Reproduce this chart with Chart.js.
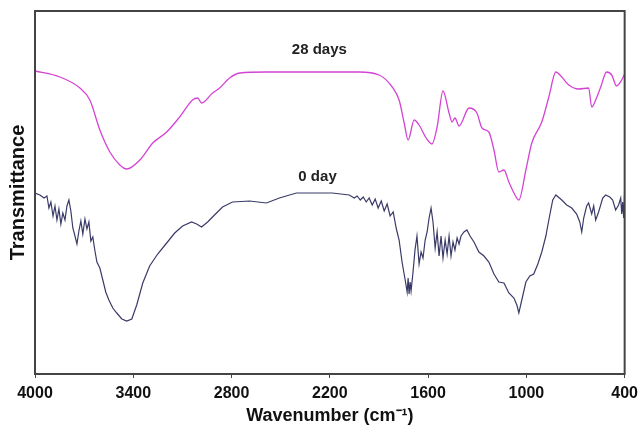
<!DOCTYPE html>
<html>
<head>
<meta charset="utf-8">
<script src="https://cdn.jsdelivr.net/npm/chart.js@4.4.0/dist/chart.umd.min.js"></script>
<style>
  body { margin: 0; background: #fff; }
  canvas { display: block; }
</style>
</head>
<body>
<canvas id="ftir" width="644" height="437"></canvas>
<script>
// wavenumber (cm-1) and transmittance (a.u.)
const wn28 = [4000, 3848, 3726, 3665, 3604, 3543, 3482, 3440, 3360, 3281, 3196, 3117, 3038, 3007, 2983,
  2916, 2873, 2812, 2751, 2587, 2020, 1899, 1819, 1777, 1746, 1722, 1685, 1655, 1612, 1576, 1545, 1509,
  1472, 1454, 1436, 1411, 1350, 1302, 1271, 1229, 1198, 1168, 1137, 1107, 1076, 1046, 1003, 967, 906,
  863, 820, 784, 741, 680, 620, 601, 577, 546, 510, 479, 449, 418, 400];
const t28 = [303, 297, 286, 274, 244, 222, 209, 205, 214, 231, 242, 257, 274, 276, 271,
  281, 286, 296, 301, 302, 302, 299, 287, 274, 251, 234, 254, 249, 236, 230, 247, 283,
  261, 252, 256, 248, 266, 261, 246, 242, 224, 202, 204, 192, 181, 174, 204, 231, 252,
  277, 302, 297, 289, 285, 286, 267, 274, 287, 302, 299, 288, 294, 300];

const wn0 = [4000, 3970, 3945, 3927, 3915, 3903, 3890, 3878, 3866, 3854, 3842, 3830, 3817, 3805, 3793,
  3781, 3769, 3756, 3744, 3732, 3720, 3708, 3695, 3683, 3671, 3659, 3647, 3635, 3622, 3604, 3586, 3568,
  3549, 3525, 3501, 3470, 3440, 3409, 3379, 3342, 3300, 3251, 3196, 3147, 3099, 3044, 3013, 2983, 2946,
  2904, 2855, 2794, 2690, 2587, 2508, 2404, 2185, 2081, 2051, 2033, 2014, 1996, 1978, 1960, 1941, 1923,
  1905, 1886, 1868, 1850, 1832, 1813, 1795, 1777, 1759, 1740, 1728, 1722, 1716, 1710, 1704, 1692, 1680,
  1668, 1655, 1643, 1631, 1618, 1606, 1594, 1582, 1570, 1557, 1545, 1533, 1521, 1509, 1496, 1484, 1472,
  1460, 1448, 1436, 1423, 1411, 1399, 1381, 1363, 1344, 1320, 1290, 1259, 1229, 1198, 1168, 1137, 1107,
  1076, 1058, 1046, 1028, 1003, 979, 955, 930, 906, 881, 863, 839, 820, 784, 754, 723, 693, 674, 662,
  650, 632, 620, 601, 589, 577, 559, 534, 516, 491, 473, 455, 437, 424, 418, 412, 406, 400];
const t0 = [181, 179, 176, 178, 166, 172, 158, 168, 154, 165, 150, 161, 154, 168, 174,
  163, 146, 138, 130, 143, 153, 140, 155, 145, 152, 133, 137, 124, 112, 106, 94, 82,
  74, 66, 61, 55, 53, 55, 69, 91, 108, 120, 131, 141, 148, 152, 150, 147, 152,
  159, 167, 172, 173, 171, 176, 181, 181, 179, 176, 178, 174, 177, 172, 176, 169, 175,
  166, 173, 163, 170, 158, 162, 146, 134, 112, 94, 82, 96, 80, 92, 83, 102, 124,
  138, 110, 122, 116, 134, 142, 156, 166, 152, 126, 142, 118, 138, 116, 134, 120, 138,
  118, 132, 124, 136, 130, 138, 142, 144, 138, 132, 122, 118, 112, 100, 92, 91, 81,
  76, 69, 61, 74, 92, 98, 100, 110, 122, 138, 154, 174, 179, 174, 169, 166, 160, 152, 142,
  156, 168, 171, 160, 168, 154, 162, 176, 179, 177, 174, 164, 169, 176, 160, 172, 156, 184];

const xTicks = [4000, 3400, 2800, 2200, 1600, 1000, 400];

const seriesNames = ['28 days', '0 day'];
const namePos = [[2264, 324], [2275, 197]];

const toPoints = (xs, ys) => xs.map((x, i) => ({ x: x, y: ys[i] }));

// frame round the plot + the series names
const framePlugin = {
  id: 'frame',
  afterDraw(chart) {
    const { ctx, chartArea: a, scales } = chart;
    ctx.save();
    ctx.strokeStyle = '#444';
    ctx.lineWidth = 2;
    ctx.strokeRect(a.left, a.top, a.right - a.left, a.bottom - a.top);
    ctx.fillStyle = '#222';
    ctx.font = 'bold 15px "Liberation Sans", Arial, sans-serif';
    ctx.textAlign = 'center';
    ctx.textBaseline = 'middle';
    seriesNames.forEach((name, i) => {
      ctx.fillText(name, scales.x.getPixelForValue(namePos[i][0]), scales.y.getPixelForValue(namePos[i][1]));
    });
    ctx.restore();
  }
};

new Chart(document.getElementById('ftir'), {
  type: 'line',
  data: {
    datasets: [{
      label: seriesNames[0],
      data: toPoints(wn28, t28),
      borderColor: '#d444d4',
      borderWidth: 1.3,
      pointRadius: 0,
      cubicInterpolationMode: 'monotone'
    }, {
      label: seriesNames[1],
      data: toPoints(wn0, t0),
      borderColor: '#3a3a68',
      borderWidth: 1.2,
      pointRadius: 0,
      tension: 0
    }]
  },
  options: {
    responsive: false,
    animation: false,
    layout: { padding: { top: 11, right: 18, left: 0, bottom: 0 } },
    plugins: { legend: { display: false }, tooltip: { enabled: false } },
    scales: {
      x: {
        type: 'linear',
        reverse: true,
        min: 400,
        max: 4000,
        afterBuildTicks: s => { s.ticks = xTicks.map(v => ({ value: v })); },
        afterFit: s => { s.height = 63; },
        grid: { display: true, drawOnChartArea: false, drawTicks: true, tickLength: 4, color: '#444' },
        border: { display: true, color: '#444', width: 2 },
        ticks: {
          color: '#111',
          padding: 6,
          maxRotation: 0,
          autoSkip: false,
          callback: v => String(v),
          font: { family: '"Liberation Sans", Arial, sans-serif', size: 16, weight: 'bold' }
        },
        title: {
          display: true,
          text: 'Wavenumber (cm\u207B\u00B9)',
          color: '#111',
          padding: { top: 0, bottom: 10 },
          font: { family: '"Liberation Sans", Arial, sans-serif', size: 18, weight: 'bold' }
        }
      },
      y: {
        min: 0,
        max: 363,
        afterFit: s => { s.width = 35; },
        grid: { display: false },
        border: { display: true, color: '#444', width: 2 },
        ticks: { display: false },
        title: {
          display: true,
          text: 'Transmittance',
          color: '#111',
          padding: { top: 6, bottom: 0 },
          font: { family: '"Liberation Sans", Arial, sans-serif', size: 20, weight: 'bold' }
        }
      }
    }
  },
  plugins: [framePlugin]
});
</script>
</body>
</html>
